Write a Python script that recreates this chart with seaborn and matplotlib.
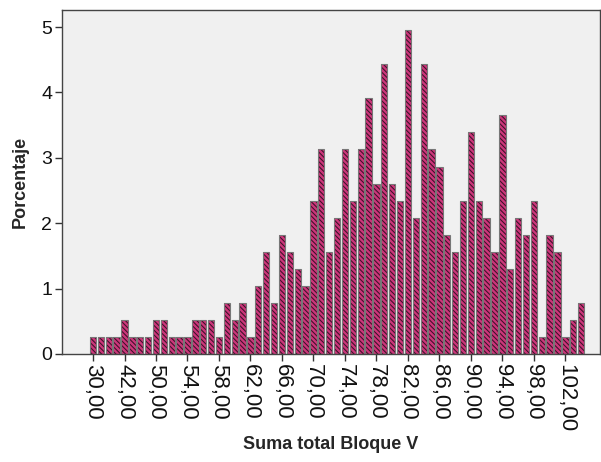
import pandas as pd
import matplotlib
matplotlib.use("Agg")
import matplotlib.pyplot as plt
import seaborn as sns

# Bloque V total score (each distinct value present is one bar)
scores = [30, 34, 36, 38, 42, 44, 46, 48,
          50, 51, 52, 53, 54, 55, 56, 57, 58, 59,
          60, 61, 62, 63, 64, 65, 66, 67, 68, 69,
          70, 71, 72, 73, 74, 75, 76, 77, 78, 79,
          80, 81, 82, 83, 84, 85, 86, 87, 88, 89,
          90, 91, 92, 93, 94, 95, 96, 97, 98, 99,
          100, 101, 102, 103, 104]

# percentage of cases for each score
percent = [0.26, 0.26, 0.26, 0.26, 0.52, 0.26, 0.26, 0.26,
           0.52, 0.52, 0.26, 0.26, 0.26, 0.52, 0.52, 0.52, 0.26, 0.78,
           0.52, 0.78, 0.26, 1.04, 1.56, 0.78, 1.82, 1.56, 1.30, 1.04,
           2.34, 3.13, 1.56, 2.08, 3.13, 2.34, 3.13, 3.91, 2.60, 4.43,
           2.60, 2.34, 4.95, 2.08, 4.43, 3.13, 2.86, 1.82, 1.56, 2.34,
           3.39, 2.34, 2.08, 1.56, 3.65, 1.30, 2.08, 1.82, 2.34, 0.26,
           1.82, 1.56, 0.26, 0.52, 0.78]

y_ticks = [0, 1, 2, 3, 4, 5]

labels = [f"{v:.2f}".replace(".", ",") for v in scores]
df = pd.DataFrame({"score": labels, "pct": percent})

sns.set_style("white")
plt.rcParams["font.family"] = ["Liberation Sans", "DejaVu Sans"]
plt.rcParams["hatch.linewidth"] = 0.75

fig = plt.figure(figsize=(6.01, 4.62), dpi=100)
ax = fig.add_axes([62 / 601, 1 - 354 / 462, 538 / 601, 344 / 462])
ax.set_facecolor("#f0f0f0")

# hatched fill
sns.barplot(data=df, x="score", y="pct", order=labels, color="#cc367a",
            edgecolor="#3c1028", linewidth=0, hatch="\\" * 7,
            width=0.8, errorbar=None, saturation=1, ax=ax)
# gray outline on top
sns.barplot(data=df, x="score", y="pct", order=labels, color="#777777",
            fill=False, linewidth=0.8, width=0.8, errorbar=None, ax=ax)

ax.set_xlim(-3.94, len(scores) - 1 + 2.4)
ax.set_ylim(0, 5.26)
ax.set_yticks(y_ticks)
ax.set_yticklabels([str(t) for t in y_ticks], fontsize=14)

tick_pos = list(range(0, len(scores), 4))
ax.set_xticks(tick_pos)
ax.set_xticklabels([labels[i] for i in tick_pos], rotation=270, fontsize=16)

ax.tick_params(axis="both", direction="out", length=5, width=1,
               color="#333333", labelcolor="#111111", bottom=True, left=True,
               pad=2)
for s in ax.spines.values():
    s.set_visible(True)
    s.set_color("#444444")
    s.set_linewidth(1)

ax.set_xlabel("Suma total Bloque V", fontsize=13, fontweight="bold", labelpad=3)
ax.set_ylabel("Porcentaje", fontsize=13, fontweight="bold", labelpad=9)

fig.savefig("out.png", dpi=100, facecolor="white")
